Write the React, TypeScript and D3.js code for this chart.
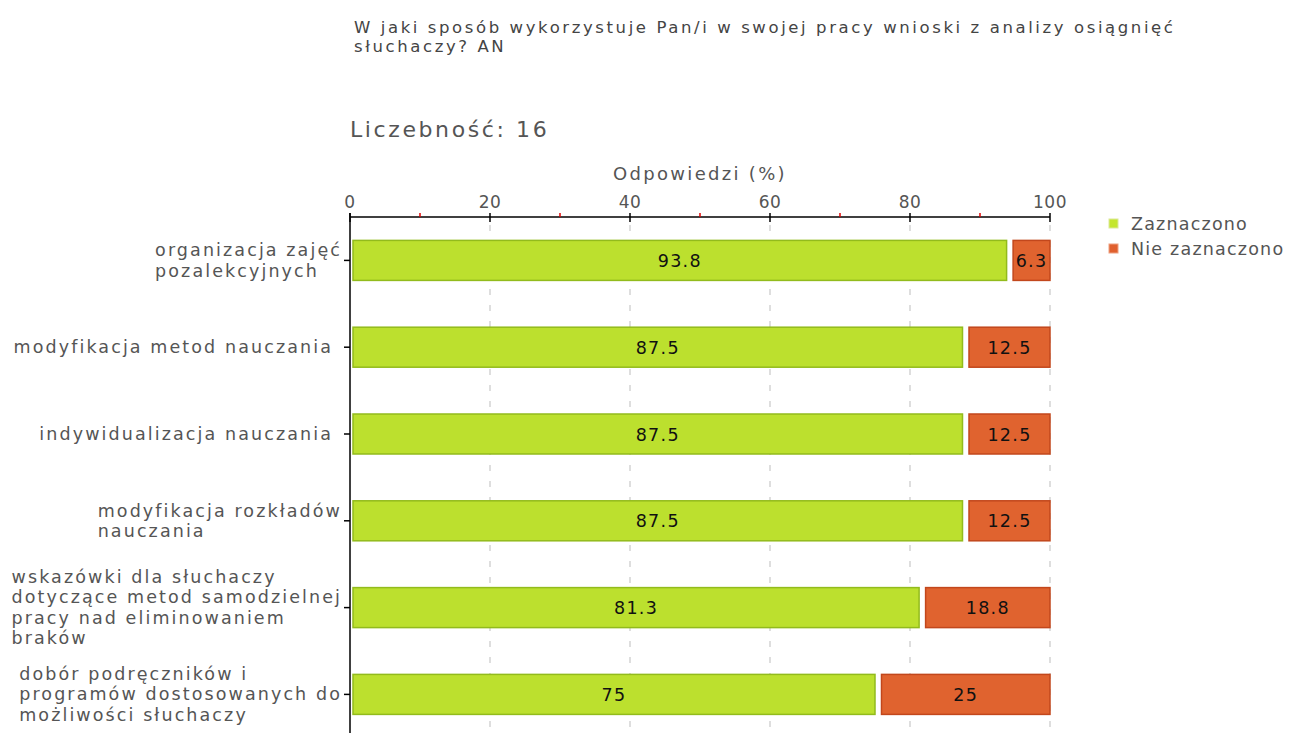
import React, { useEffect, useRef } from "react";
import * as d3 from "d3";

const titleLines = [
  "W jaki sposób wykorzystuje Pan/i w swojej pracy wnioski z analizy osiągnięć",
  "słuchaczy? AN",
];
const countLabel = "Liczebność: 16";
const axisTitle = "Odpowiedzi (%)";
const categories = [
  ["organizacja zajęć", "pozalekcyjnych"],
  ["modyfikacja metod nauczania"],
  ["indywidualizacja nauczania"],
  ["modyfikacja rozkładów", "nauczania"],
  ["wskazówki dla słuchaczy", "dotyczące metod samodzielnej", "pracy nad eliminowaniem", "braków"],
  ["dobór podręczników i", "programów dostosowanych do", "możliwości słuchaczy"],
];
const zaznaczono = [93.8, 87.5, 87.5, 87.5, 81.3, 75];
const nieZaznaczono = [6.3, 12.5, 12.5, 12.5, 18.8, 25];
const seriesNames = ["Zaznaczono", "Nie zaznaczono"];
const majorTicks = [0, 20, 40, 60, 80, 100];
const minorTicks = [10, 30, 50, 70, 90];
const gridTicks = [20, 40, 60, 80, 100];

const FONT = "'DejaVu Sans', Verdana, sans-serif";
const GREEN = "#bce02e";
const GREEN_STROKE = "#92bb1c";
const ORANGE = "#e0632f";
const ORANGE_STROKE = "#c2471c";

export default function App() {
  const ref = useRef<SVGSVGElement | null>(null);

  useEffect(() => {
    const svg = d3.select(ref.current);
    svg.selectAll("*").remove();

    const x = d3.scaleLinear().domain([0, 100]).range([350, 1050]);
    const idx = categories.map((_, i) => String(i));
    const y = d3.scaleBand().domain(idx).range([217, 217 + 86.8 * 6]);
    const barH = 40;
    const axisY = 217;

    // title
    svg
      .append("g")
      .selectAll("text")
      .data(titleLines)
      .join("text")
      .attr("x", 354)
      .attr("y", 33 + 0)
      .attr("dy", (_, i) => i * 19)
      .attr("font-family", FONT)
      .attr("font-size", 16.5)
      .attr("letter-spacing", 2.6)
      .attr("fill", "#444")
      .text((d) => d);

    svg
      .append("text")
      .attr("x", 350)
      .attr("y", 137)
      .attr("font-family", FONT)
      .attr("font-size", 22)
      .attr("letter-spacing", 2.6)
      .attr("fill", "#555")
      .text(countLabel);

    svg
      .append("text")
      .attr("x", 700)
      .attr("y", 180)
      .attr("text-anchor", "middle")
      .attr("font-family", FONT)
      .attr("font-size", 18)
      .attr("letter-spacing", 2.3)
      .attr("fill", "#555")
      .text(axisTitle);

    // grid
    svg
      .append("g")
      .selectAll("line")
      .data(gridTicks)
      .join("line")
      .attr("x1", (d) => x(d))
      .attr("x2", (d) => x(d))
      .attr("y1", axisY + 8)
      .attr("y2", 733)
      .attr("stroke", "#d4d4d4")
      .attr("stroke-width", 1.5)
      .attr("stroke-dasharray", "6,10");

    // x axis
    svg
      .append("line")
      .attr("x1", x(0))
      .attr("x2", x(100))
      .attr("y1", axisY)
      .attr("y2", axisY)
      .attr("stroke", "#000")
      .attr("stroke-width", 1.5);
    svg
      .append("g")
      .selectAll("line")
      .data(majorTicks)
      .join("line")
      .attr("x1", (d) => x(d))
      .attr("x2", (d) => x(d))
      .attr("y1", axisY - 4)
      .attr("y2", axisY + 5)
      .attr("stroke", "#000")
      .attr("stroke-width", 1.5);
    svg
      .append("g")
      .selectAll("line")
      .data(minorTicks)
      .join("line")
      .attr("x1", (d) => x(d))
      .attr("x2", (d) => x(d))
      .attr("y1", axisY - 4)
      .attr("y2", axisY)
      .attr("stroke", "#e00000")
      .attr("stroke-width", 1.5);
    svg
      .append("g")
      .selectAll("text")
      .data(majorTicks)
      .join("text")
      .attr("x", (d) => x(d))
      .attr("y", 208)
      .attr("text-anchor", "middle")
      .attr("font-family", FONT)
      .attr("font-size", 17)
      .attr("letter-spacing", 0.5)
      .attr("fill", "#555")
      .text((d) => String(d));

    // y axis
    svg
      .append("line")
      .attr("x1", x(0))
      .attr("x2", x(0))
      .attr("y1", axisY - 4)
      .attr("y2", 733)
      .attr("stroke", "#000")
      .attr("stroke-width", 1.5);

    const rows = svg
      .append("g")
      .selectAll("g")
      .data(categories.map((c, i) => ({ c, i })))
      .join("g");

    rows
      .append("line")
      .attr("x1", x(0) - 6)
      .attr("x2", x(0))
      .attr("y1", (d) => y(String(d.i))! + y.bandwidth() / 2)
      .attr("y2", (d) => y(String(d.i))! + y.bandwidth() / 2)
      .attr("stroke", "#000")
      .attr("stroke-width", 1.5);

    // category labels
    rows.each(function (d) {
      const g = d3.select(this);
      const cy = y(String(d.i))! + y.bandwidth() / 2;
      const n = d.c.length;
      const tg = g.append("g");
      const texts = tg
        .selectAll("text")
        .data(d.c)
        .join("text")
        .attr("x", 0)
        .attr("y", (_, j) => cy + (j - (n - 1) / 2) * 20.5 + 6)
        .attr("font-family", FONT)
        .attr("font-size", 17.5)
        .attr("letter-spacing", 2.1)
        .attr("fill", "#555")
        .text((t) => t);
      let maxW = 0;
      texts.each(function () {
        maxW = Math.max(maxW, (this as SVGTextElement).getComputedTextLength());
      });
      const right = n === 1 ? 333 : 342;
      tg.attr("transform", `translate(${right - maxW},0)`);
    });

    // bars
    rows
      .append("rect")
      .attr("x", x(0) + 3)
      .attr("y", (d) => y(String(d.i))! + y.bandwidth() / 2 - barH / 2)
      .attr("width", (d) => x(zaznaczono[d.i]) - x(0) - 3)
      .attr("height", barH)
      .attr("fill", GREEN)
      .attr("stroke", GREEN_STROKE)
      .attr("stroke-width", 1.5);
    rows
      .append("rect")
      .attr("x", (d) => x(zaznaczono[d.i]) + 6.5)
      .attr("y", (d) => y(String(d.i))! + y.bandwidth() / 2 - barH / 2)
      .attr("width", (d) => x(100) - x(zaznaczono[d.i]) - 6.5)
      .attr("height", barH)
      .attr("fill", ORANGE)
      .attr("stroke", ORANGE_STROKE)
      .attr("stroke-width", 1.5);

    rows
      .append("text")
      .attr("x", (d) => (x(0) + 3 + x(zaznaczono[d.i])) / 2)
      .attr("y", (d) => y(String(d.i))! + y.bandwidth() / 2 + 6.5)
      .attr("text-anchor", "middle")
      .attr("font-family", FONT)
      .attr("font-size", 17.5)
      .attr("letter-spacing", 1.3)
      .attr("fill", "#111")
      .text((d) => String(zaznaczono[d.i]));
    rows
      .append("text")
      .attr("x", (d) => (x(zaznaczono[d.i]) + 6.5 + x(100)) / 2)
      .attr("y", (d) => y(String(d.i))! + y.bandwidth() / 2 + 6.5)
      .attr("text-anchor", "middle")
      .attr("font-family", FONT)
      .attr("font-size", 17.5)
      .attr("letter-spacing", 1.3)
      .attr("fill", "#111")
      .text((d) => String(nieZaznaczono[d.i]));

    // legend
    const legend = svg
      .append("g")
      .selectAll("g")
      .data(seriesNames.map((s, i) => ({ s, i })))
      .join("g")
      .attr("transform", (d) => `translate(1109, ${219 + d.i * 25})`);
    legend
      .append("rect")
      .attr("width", 9)
      .attr("height", 9)
      .attr("fill", (d) => (d.i === 0 ? "#c4e62e" : "#e0602e"))
      .attr("stroke", (d) => (d.i === 0 ? "#dbe89a" : "#eea080"))
      .attr("stroke-width", 1);
    legend
      .append("text")
      .attr("x", 22)
      .attr("y", 11)
      .attr("font-family", FONT)
      .attr("font-size", 17.5)
      .attr("letter-spacing", 1.2)
      .attr("fill", "#555")
      .text((d) => d.s);
  }, []);

  return (
    <svg
      ref={ref}
      width={1294}
      height={733}
      style={{ position: "absolute", left: 0, top: 0, background: "#fff" }}
    />
  );
}
